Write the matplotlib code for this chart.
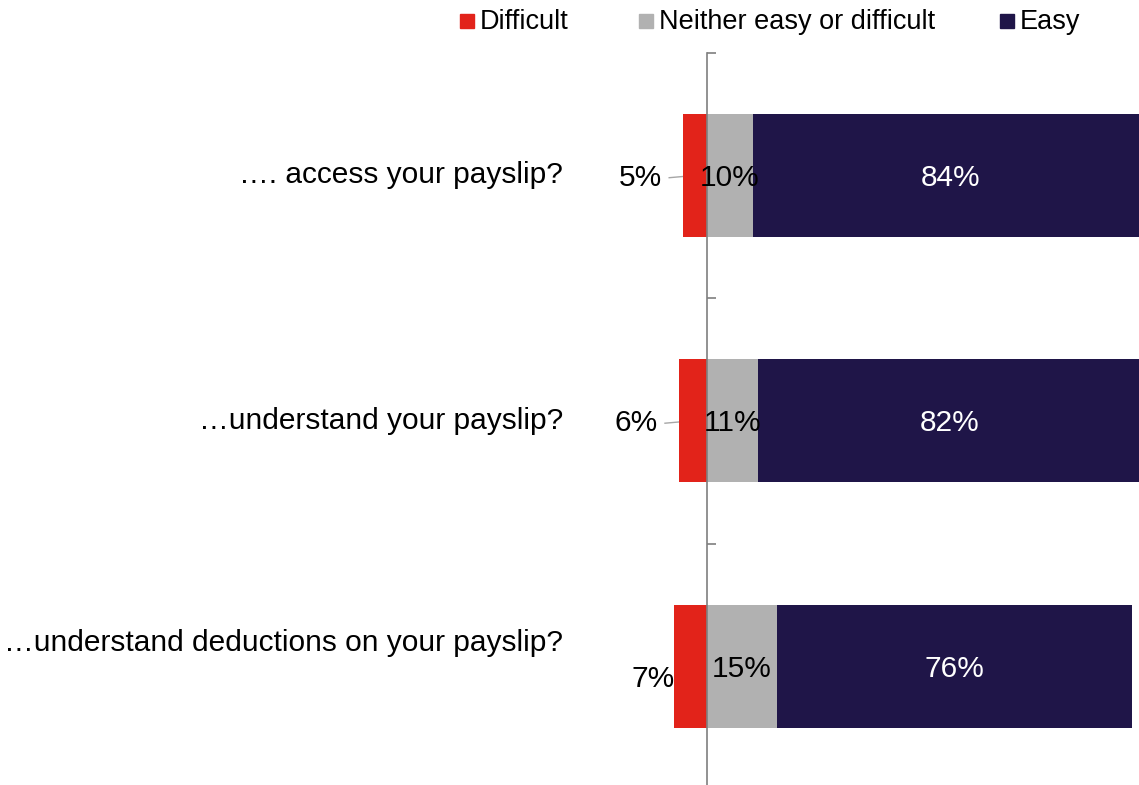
import matplotlib
matplotlib.use("Agg")
import matplotlib.pyplot as plt
from matplotlib.patches import Rectangle
from matplotlib.transforms import blended_transform_factory

plt.rcParams["font.family"] = ["Liberation Sans", "DejaVu Sans"]

questions = [
    "…. access your payslip?",
    "…understand your payslip?",
    "…understand deductions on your payslip?",
]
difficult = [5.1, 6.0, 7.1]
neither = [9.9, 10.9, 15.0]
easy = [84.3, 82.0, 76.0]
difficult_labels = ["5%", "6%", "7%"]
neither_labels = ["10%", "11%", "15%"]
easy_labels = ["84%", "82%", "76%"]

series_names = ["Difficult", "Neither easy or difficult", "Easy"]
RED = "#E2231A"
GREY = "#B1B1B1"
NAVY = "#1F1548"
colors = [RED, GREY, NAVY]

W, H = 1139, 785
fig = plt.figure(figsize=(W / 100, H / 100), dpi=100)

# axes placed so the zero line sits at x=707 px
px_per_pct = 4.67
ax_left_px = 600
ax = fig.add_axes([ax_left_px / W, (H - 789) / H, (W - ax_left_px) / W, (789 - 52.5) / H])
ax.set_xlim(-(707 - ax_left_px) / px_per_pct, (W - 707) / px_per_pct)
ax.set_ylim(2.5, -0.5)

y = list(range(len(questions)))
bh = 0.5
ax.barh(y, [-d for d in difficult], height=bh, color=RED, zorder=2)
ax.barh(y, neither, height=bh, color=GREY, zorder=2)
ax.barh(y, easy, left=neither, height=bh, color=NAVY, zorder=2)

for s in ["top", "right", "bottom"]:
    ax.spines[s].set_visible(False)
ax.spines["left"].set_position(("data", 0))
ax.spines["left"].set_color("#7F7F7F")
ax.spines["left"].set_linewidth(1.2)
ax.spines["left"].set_zorder(3)
ax.set_xticks([])
ax.set_yticks([-0.5, 0.5, 1.5])
ax.tick_params(axis="y", direction="in", length=6.5, width=1.2, color="#7F7F7F", labelleft=False)

fs = 21.5
trans = blended_transform_factory(ax.transAxes, ax.transData)
label_offsets = [0.0, 0.0, -0.094]
for i, q in enumerate(questions):
    ax.text(-0.069, y[i] + label_offsets[i], q, transform=trans, ha="right", va="center",
            fontsize=fs, color="black", clip_on=False)

for i in range(len(y)):
    # difficult labels (outside left)
    if i < 2:
        x_lab = -difficult[i] - 21 / px_per_pct
        ax.text(x_lab, y[i] + 0.01, difficult_labels[i], ha="right", va="center",
                fontsize=fs, color="black", zorder=4)
        ax.plot([x_lab + 7 / px_per_pct, -difficult[i]], [y[i] + 0.01, y[i] + 0.005],
                color="#A6A6A6", lw=1, zorder=1)
    else:
        ax.text(-difficult[i] + 0.2, y[i] + 0.05, difficult_labels[i], ha="right", va="center",
                fontsize=fs, color="black", zorder=4)
    ax.text(neither[i] / 2, y[i] + 0.01, neither_labels[i], ha="center", va="center",
            fontsize=fs, color="black", zorder=4)
    ax.text(neither[i] + easy[i] / 2, y[i] + 0.01, easy_labels[i], ha="center", va="center",
            fontsize=fs, color="white", zorder=4)

# legend drawn by hand to match the uneven spacing
legend_sq = [460, 639, 1000]
for name, c, xs in zip(series_names, colors, legend_sq):
    fig.patches.append(Rectangle((xs / W, (H - 28) / H), 14 / W, 14 / H,
                                 transform=fig.transFigure, color=c))
    fig.text((xs + 20) / W, (H - 22) / H, name, ha="left", va="center", fontsize=19.5)

fig.savefig("out.png", dpi=100)
